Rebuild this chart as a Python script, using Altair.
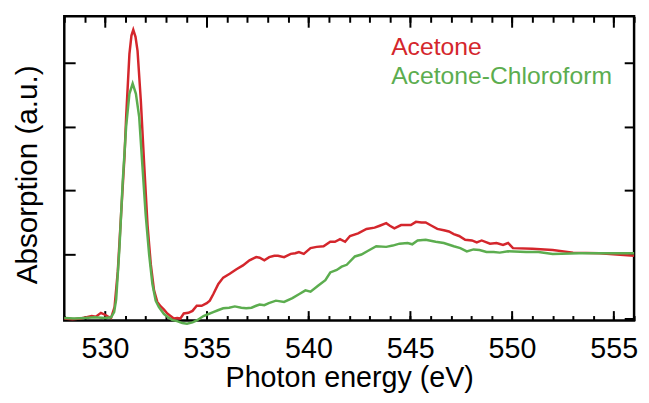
import altair as alt
import pandas as pd

# ---- data ----
energy_red = [528.0, 528.4, 528.8, 529.1, 529.35, 529.55, 529.8, 530.0, 530.15, 530.3,
              530.47, 530.63, 530.79, 530.96, 531.04, 531.2, 531.3, 531.39, 531.5, 531.6,
              531.76, 531.93, 532.09, 532.25, 532.41, 532.57, 532.74, 532.9, 533.06, 533.22,
              533.38, 533.55, 533.7, 533.87, 534.1, 534.3, 534.51, 534.75, 535.0, 535.15,
              535.32, 535.57, 535.81, 536.13, 536.46, 536.78, 537.1, 537.43, 537.6, 537.83,
              538.07, 538.32, 538.5, 538.8, 539.13, 539.35, 539.53, 539.77, 540.1, 540.4,
              540.74, 541.07, 541.3, 541.55, 541.8, 542.04, 542.44, 542.85, 543.25, 543.5,
              543.82, 544.0, 544.22, 544.55, 545.03, 545.28, 545.55, 545.76, 546.05, 546.33,
              546.65, 546.9, 547.14, 547.4, 547.7, 548.03, 548.27, 548.51, 548.92, 549.24,
              549.56, 549.81, 550.05, 551.0, 552.0, 553.0, 554.3, 556.0]
abs_red = [0.00, -0.01, 0.00, 0.02, 0.04, 0.03, 0.09, 0.06, 0.03, 0.01,
           0.18, 0.74, 1.62, 2.54, 3.15, 4.13, 4.42, 4.51, 4.40, 4.18,
           3.41, 2.38, 1.46, 0.85, 0.44, 0.26, 0.19, 0.14, 0.08, 0.04,
           0.00, 0.01, 0.00, 0.08, 0.09, 0.12, 0.20, 0.20, 0.24, 0.28,
           0.38, 0.54, 0.64, 0.70, 0.77, 0.83, 0.91, 0.96, 0.95, 0.91,
           0.96, 0.98, 0.98, 0.96, 1.01, 1.02, 1.04, 1.01, 1.10, 1.12,
           1.13, 1.20, 1.20, 1.24, 1.20, 1.29, 1.33, 1.40, 1.42, 1.45,
           1.49, 1.45, 1.41, 1.46, 1.46, 1.51, 1.50, 1.50, 1.45, 1.40,
           1.38, 1.36, 1.32, 1.29, 1.23, 1.22, 1.19, 1.22, 1.17, 1.18,
           1.15, 1.18, 1.10, 1.09, 1.07, 1.03, 1.02, 0.98]

energy_green = [528.0, 528.5, 529.0, 529.5, 530.0, 530.3, 530.45, 530.55, 530.71, 530.87,
                531.04, 531.2, 531.36, 531.52, 531.68, 531.84, 532.0, 532.17, 532.33, 532.49,
                532.65, 532.9, 533.1, 533.3, 533.54, 533.8, 534.03, 534.3, 534.51, 534.84,
                535.0, 535.32, 535.55, 535.81, 536.1, 536.38, 536.7, 536.94, 537.2, 537.43,
                537.6, 537.83, 538.05, 538.4, 538.8, 539.21, 539.53, 539.85, 540.1, 540.5,
                540.83, 541.07, 541.39, 541.63, 541.88, 542.28, 542.6, 542.93, 543.33, 543.82,
                544.14, 544.47, 544.87, 545.1, 545.36, 545.76, 546.25, 546.65, 547.14, 547.46,
                547.78, 548.11, 548.4, 548.75, 549.1, 549.4, 549.81, 550.7, 551.3, 552.0,
                553.3, 554.9, 556.0]
abs_green = [0.01, 0.00, 0.01, 0.02, 0.01, 0.02, 0.10, 0.30, 1.10, 2.13,
             3.00, 3.51, 3.67, 3.51, 3.15, 2.38, 1.62, 1.00, 0.54, 0.28,
             0.18, 0.07, 0.02, -0.02, -0.04, -0.07, -0.08, -0.06, -0.03, 0.04,
             0.06, 0.10, 0.13, 0.16, 0.17, 0.19, 0.17, 0.16, 0.17, 0.20,
             0.22, 0.21, 0.24, 0.28, 0.26, 0.32, 0.38, 0.44, 0.42, 0.52,
             0.60, 0.72, 0.76, 0.81, 0.84, 0.97, 1.00, 1.06, 1.13, 1.12,
             1.14, 1.17, 1.18, 1.16, 1.22, 1.23, 1.20, 1.18, 1.13, 1.10,
             1.05, 1.08, 1.07, 1.04, 1.04, 1.03, 1.05, 1.04, 1.04, 1.01,
             1.02, 1.02, 1.02]

series_names = ["Acetone", "Acetone-Chloroform"]
series_colors = ["#d4262c", "#5cad4f"]
x_major = [530, 535, 540, 545, 550, 555]
x_minor = list(range(528, 557))
y_ticks = [0, 1, 2, 3, 4]

df = pd.concat([
    pd.DataFrame({"energy": energy_red, "absorption": abs_red, "series": series_names[0]}),
    pd.DataFrame({"energy": energy_green, "absorption": abs_green, "series": series_names[1]}),
], ignore_index=True)

W, H = 577, 308
xscale = alt.Scale(domain=[528, 556], nice=False, zero=False)
yscale = alt.Scale(domain=[-0.03, 4.72], nice=False, zero=False)
color = alt.Color("series:N", scale=alt.Scale(domain=series_names, range=series_colors), legend=None)

base = alt.Chart(df)

lines = base.mark_line(strokeWidth=2.5).encode(
    x=alt.X("energy:Q", scale=xscale,
            axis=alt.Axis(orient="bottom", values=x_major, tickSize=0, labelFontSize=29,
                          labelPadding=14, labelColor="black", labelFlush=False,
                          domain=False, grid=False, title="Photon energy (eV)",
                          titleFontSize=29, titleFontWeight="normal", titleColor="black",
                          titleBaseline="alphabetic", titleY=67)),
    y=alt.Y("absorption:Q", scale=yscale,
            axis=alt.Axis(orient="left", values=y_ticks, labels=False, ticks=False,
                          domain=False, grid=False, title="Absorption (a.u.)",
                          titleFontSize=30, titleFontWeight="normal", titleColor="black",
                          titleBaseline="alphabetic", titleX=-28, titleY=160)),
    color=color,
)


def tick_layer(x_axis, y_axis):
    return base.mark_line(opacity=0).encode(
        x=alt.X("energy:Q", scale=xscale, axis=x_axis),
        y=alt.Y("absorption:Q", scale=yscale, axis=y_axis),
        detail="series:N",
    )


def xticks(orient, vals, size):
    return alt.Axis(orient=orient, offset=-H, values=vals, tickSize=size, tickWidth=2,
                    tickColor="black", labels=False, domain=False, grid=False, title="")


def yticks(orient, size):
    return alt.Axis(orient=orient, offset=-W, values=y_ticks, tickSize=size, tickWidth=2,
                    tickColor="black", labels=False, domain=False, grid=False, title="")


t1 = tick_layer(xticks("top", x_major, 10), yticks("right", 11))
t2 = tick_layer(xticks("top", x_minor, 5), yticks("left", 10))
t3 = tick_layer(xticks("bottom", x_major, 11), None)
t4 = tick_layer(xticks("bottom", x_minor, 6), None)

lab1 = alt.Chart(pd.DataFrame({"label": [series_names[0]]})).mark_text(
    align="left", baseline="alphabetic", fontSize=25, color=series_colors[0]
).encode(text="label:N", x=alt.value(331), y=alt.value(39))
lab2 = alt.Chart(pd.DataFrame({"label": [series_names[1]]})).mark_text(
    align="left", baseline="alphabetic", fontSize=25, color=series_colors[1]
).encode(text="label:N", x=alt.value(331), y=alt.value(69))

chart = alt.layer(t1, t2, t3, t4, lines, lab1, lab2).resolve_axis(
    x="independent", y="independent"
).properties(
    width=W, height=H,
    autosize=alt.AutoSizeParams(type="none"),
    padding={"left": 57, "top": 6, "right": 7, "bottom": 73},
).configure(font="Liberation Sans").configure_view(stroke="black", strokeWidth=2.5)

chart.save("out.html", embed_options={"renderer": "svg", "actions": False})
